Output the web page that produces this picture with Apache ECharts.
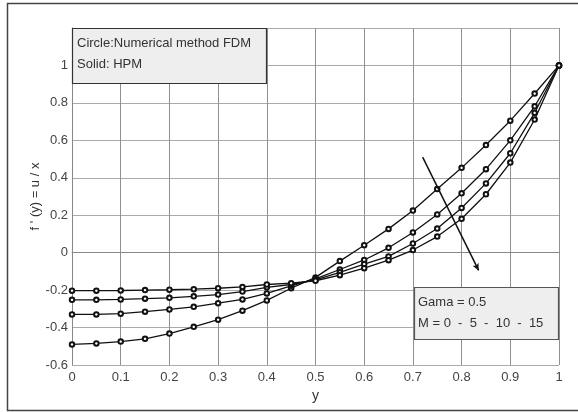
<!DOCTYPE html>
<html>
<head>
<meta charset="utf-8">
<script src="https://cdn.jsdelivr.net/npm/echarts@6/dist/echarts.min.js"></script>
<style>
html,body{margin:0;padding:0;background:#fff;}
#chart{width:578px;height:412px;}
</style>
</head>
<body>
<div id="chart"></div>
<script>
const xValues = [0,0.05,0.1,0.15,0.2,0.25,0.3,0.35,0.4,0.45,0.5,0.55,0.6,0.65,0.7,0.75,0.8,0.85,0.9,0.95,1];
const curveM0  = [-0.49,-0.485,-0.475,-0.46,-0.432,-0.396,-0.358,-0.31,-0.255,-0.19,-0.132,-0.045,0.04,0.127,0.225,0.34,0.453,0.575,0.705,0.85,1];
const curveM5  = [-0.33,-0.33,-0.326,-0.315,-0.303,-0.289,-0.27,-0.25,-0.218,-0.177,-0.14,-0.09,-0.039,0.026,0.108,0.204,0.317,0.446,0.6,0.782,1];
const curveM10 = [-0.252,-0.252,-0.25,-0.246,-0.241,-0.233,-0.224,-0.208,-0.185,-0.17,-0.145,-0.105,-0.061,-0.02,0.049,0.129,0.239,0.37,0.531,0.747,1];
const curveM15 = [-0.203,-0.203,-0.202,-0.2,-0.198,-0.195,-0.19,-0.183,-0.17,-0.163,-0.15,-0.12,-0.083,-0.04,0.014,0.086,0.181,0.312,0.481,0.711,1];
const arrowStart = [0.72, 0.51];
const arrowEnd = [0.835, -0.095];
const legend1 = ['Circle:Numerical method FDM', 'Solid: HPM'];
const legend2 = ['Gama = 0.5', 'M = 0  -  5  -  10  -  15'];
const xAxisTitle = 'y';
const yAxisTitle = "f ' (y) = u / x";

const font = 'Liberation Sans, Arial, sans-serif';
function mk(vals){ return xValues.map((x,i)=>[x, vals[i]]); }
const curveStyle = {
  type:'line', symbol:'emptyCircle', symbolSize:4.5, showAllSymbol:true,
  lineStyle:{color:'#111', width:1.3}, itemStyle:{color:'#111', borderColor:'#111', borderWidth:1.6},
  silent:true, animation:false
};

const chart = echarts.init(document.getElementById('chart'), null, {renderer:'canvas'});
chart.setOption({
  animation:false,
  backgroundColor:'#fff',
  grid:{left:72, right:19, top:28, bottom:47},
  xAxis:{
    type:'value', min:0, max:1, interval:0.1,
    name:xAxisTitle, nameLocation:'middle', nameGap:22,
    nameTextStyle:{fontFamily:font, fontSize:14, color:'#333'},
    axisLine:{lineStyle:{color:'#888', width:1}},
    axisTick:{show:false},
    axisLabel:{fontFamily:font, fontSize:13, color:'#444', margin:6,
      formatter:v=>String(Math.round(v*10)/10)},
    splitLine:{show:true, lineStyle:{color:'#909090', width:1}}
  },
  yAxis:{
    type:'value', min:-0.6, max:1.2, interval:0.2,
    name:yAxisTitle, nameLocation:'middle', nameGap:30, nameRotate:90,
    nameMoveOverlap:false,
    nameTextStyle:{fontFamily:font, fontSize:13, color:'#333'},
    axisLine:{show:true, lineStyle:{color:'#888', width:1}},
    axisTick:{show:false},
    axisLabel:{fontFamily:font, fontSize:13, color:'#444', margin:4,
      formatter:v=>{const r=Math.round(v*10)/10; return r>1.05?'':String(r);}},
    splitLine:{show:true, lineStyle:{color:'#aaa', width:1}}
  },
  series:[
    Object.assign({data:mk(curveM0)}, curveStyle),
    Object.assign({data:mk(curveM5)}, curveStyle),
    Object.assign({data:mk(curveM10)}, curveStyle),
    Object.assign({data:mk(curveM15)}, curveStyle),
    {
      type:'line', data:[], silent:true,
      markLine:{
        silent:true, symbol:['none','arrow'], symbolSize:[5,7],
        lineStyle:{color:'#111', width:1.5, type:'solid'},
        label:{show:false},
        data:[[{coord:arrowStart},{coord:arrowEnd}]]
      }
    }
  ],
  graphic:[
    {type:'polyline', shape:{points:[[580,3.5],[7.5,3.5],[7.5,410.5],[580,410.5]]},
      style:{stroke:'#444', lineWidth:1.5, fill:null}, z:10},
    {type:'rect', shape:{x:72.5, y:28.5, width:194, height:55},
      style:{fill:'#eeeeee', stroke:'#333', lineWidth:1.2}, z:20},
    {type:'text', left:77, top:37, z:21,
      style:{text:legend1[0], font:'13px '+font, fill:'#333'}},
    {type:'text', left:77, top:58, z:21,
      style:{text:legend1[1], font:'13px '+font, fill:'#333'}},
    {type:'rect', shape:{x:414.5, y:287.5, width:144, height:52},
      style:{fill:'#eeeeee', stroke:'#555', lineWidth:1.2}, z:20},
    {type:'text', left:418, top:296, z:21,
      style:{text:legend2[0], font:'13px '+font, fill:'#333'}},
    {type:'text', left:418, top:317, z:21,
      style:{text:legend2[1], font:'13px '+font, fill:'#333'}}
  ]
});
</script>
</body>
</html>
